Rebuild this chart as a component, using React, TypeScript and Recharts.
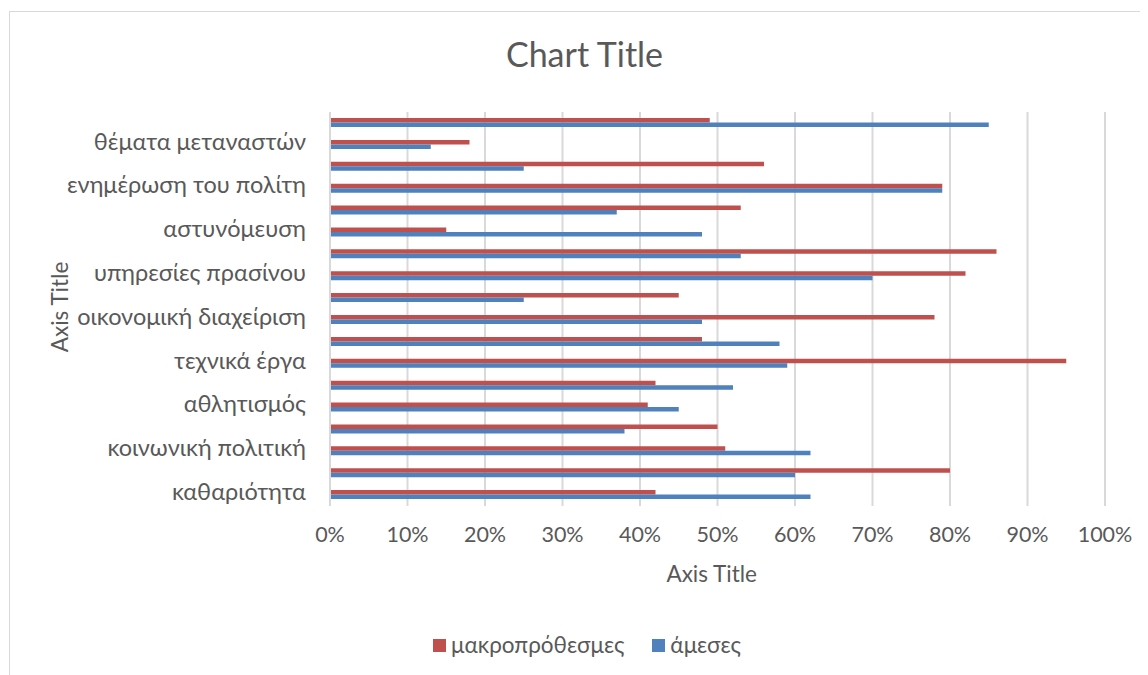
import React from 'react';
import { BarChart, Bar, XAxis, YAxis, CartesianGrid, Legend } from 'recharts';

// Category labels, top to bottom; every other row carries no printed label.
const categoryLabels = [
  '',
  'θέματα μεταναστών',
  '',
  'ενημέρωση του πολίτη',
  '',
  'αστυνόμευση',
  '',
  'υπηρεσίες πρασίνου',
  '',
  'οικονομική διαχείριση',
  '',
  'τεχνικά έργα',
  '',
  'αθλητισμός',
  '',
  'κοινωνική πολιτική',
  '',
  'καθαριότητα',
];

// Percentages per row (same order as categoryLabels)
const longTermValues = [49, 18, 56, 79, 53, 15, 86, 82, 45, 78, 48, 95, 42, 41, 50, 51, 80, 42];
const immediateValues = [85, 13, 25, 79, 37, 48, 53, 70, 25, 48, 58, 59, 52, 45, 38, 62, 60, 62];

const xTicks = [0, 10, 20, 30, 40, 50, 60, 70, 80, 90, 100];

const seriesNames = { longTerm: 'μακροπρόθεσμες', immediate: 'άμεσες' };
const seriesColors = { longTerm: '#C0504D', immediate: '#4F81BD' };
const legendOrder = [seriesNames.longTerm, seriesNames.immediate];

const data = categoryLabels.map((label, i) => ({
  id: i,
  label,
  longTerm: longTermValues[i],
  immediate: immediateValues[i],
}));

const FONT = "Lato, 'Open Sans', sans-serif";
const TEXT = '#595959';
const GRID = '#d9d9d9';

const CategoryTick = (props: any) => {
  const { x, y, payload } = props;
  const label = categoryLabels[payload.value];
  if (!label) return null;
  return (
    <text x={x - 24} y={y + 4.8} textAnchor="end" fill={TEXT} fontSize={23.5} fontFamily={FONT}>
      {label}
    </text>
  );
};

const PercentTick = (props: any) => {
  const { x, y, payload } = props;
  return (
    <text x={x} y={y + 36.3} textAnchor="middle" fill={TEXT} fontSize={21.5} fontFamily={FONT}>
      {`${payload.value}%`}
    </text>
  );
};

const LegendContent = (props: any) => {
  const items = [...(props.payload || [])].sort(
    (a: any, b: any) => legendOrder.indexOf(a.value) - legendOrder.indexOf(b.value)
  );
  return (
    <div
      style={{
        display: 'flex',
        justifyContent: 'center',
        alignItems: 'center',
        paddingLeft: 18,
        fontFamily: FONT,
        fontSize: 22.5,
        color: TEXT,
        lineHeight: '24px',
      }}
    >
      {items.map((entry: any, i: number) => (
        <div
          key={entry.value}
          style={{ display: 'flex', alignItems: 'center', marginLeft: i === 0 ? 0 : 28 }}
        >
          <span
            style={{ width: 13, height: 13, background: entry.color, display: 'inline-block', marginRight: 5 }}
          />
          <span>{entry.value}</span>
        </div>
      ))}
    </div>
  );
};

export default function App() {
  return (
    <div style={{ position: 'relative', width: 1140, height: 667, overflow: 'hidden', fontFamily: FONT }}>
      <div
        style={{
          position: 'absolute',
          left: 1,
          top: 3,
          width: 1200,
          height: 800,
          border: `1px solid ${GRID}`,
          boxSizing: 'border-box',
        }}
      />
      <div style={{ position: 'absolute', left: 0, top: 0 }}>
        <BarChart
          width={1140}
          height={667}
          data={data}
          layout="vertical"
          margin={{ top: 104, right: 43, bottom: 0, left: 0 }}
          barGap={0}
        >
          <CartesianGrid horizontal={false} stroke={GRID} strokeWidth={2} />
          <XAxis
            type="number"
            domain={[0, 100]}
            ticks={xTicks}
            interval={0}
            height={169}
            tickSize={0}
            tickMargin={0}
            axisLine={false}
            tickLine={false}
            tick={<PercentTick />}
          />
          <YAxis
            type="category"
            dataKey="id"
            width={322}
            interval={0}
            tickSize={0}
            tickMargin={0}
            tickLine={false}
            axisLine={{ stroke: GRID, strokeWidth: 2 }}
            tick={<CategoryTick />}
          />
          <Legend
            layout="horizontal"
            verticalAlign="middle"
            align="center"
            wrapperStyle={{ top: 625, left: 0, width: 1140 }}
            content={<LegendContent />}
          />
          <Bar
            dataKey="longTerm"
            name={seriesNames.longTerm}
            fill={seriesColors.longTerm}
            barSize={4.5}
            isAnimationActive={false}
          />
          <Bar
            dataKey="immediate"
            name={seriesNames.immediate}
            fill={seriesColors.immediate}
            barSize={4.5}
            isAnimationActive={false}
          />
        </BarChart>
      </div>
      <svg
        width={1140}
        height={667}
        style={{ position: 'absolute', left: 0, top: 0, pointerEvents: 'none' }}
      >
        <text x={576.5} y={58.7} textAnchor="middle" fill={TEXT} fontSize={34} fontFamily={FONT}>
          Chart Title
        </text>
        <text x={703.7} y={573.7} textAnchor="middle" fill={TEXT} fontSize={22.5} fontFamily={FONT}>
          Axis Title
        </text>
        <text
          x={0}
          y={0}
          transform="translate(60, 299) rotate(-90)"
          textAnchor="middle"
          fill={TEXT}
          fontSize={22.5}
          fontFamily={FONT}
        >
          Axis Title
        </text>
      </svg>
    </div>
  );
}
